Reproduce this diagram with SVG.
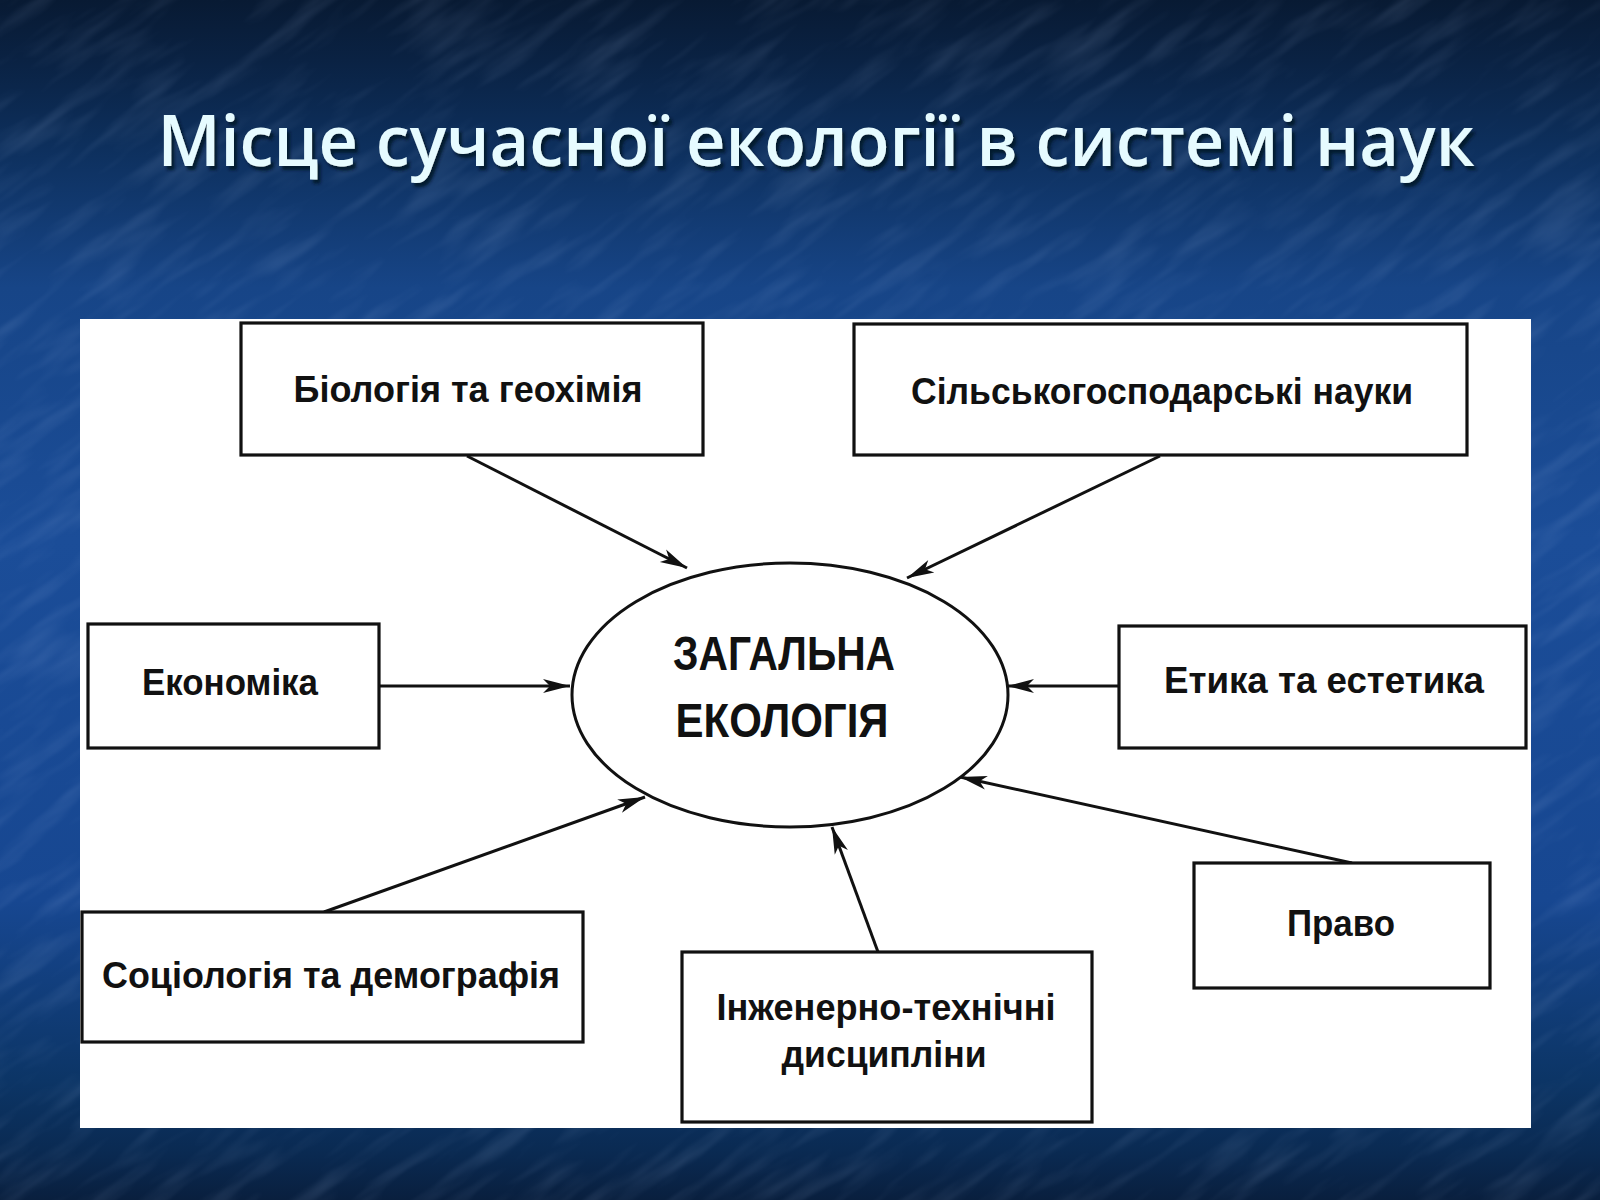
<svg xmlns="http://www.w3.org/2000/svg" width="1600" height="1200" viewBox="0 0 1600 1200">
<defs>
<linearGradient id="bg" x1="0" y1="0" x2="0" y2="1">
<stop offset="0" stop-color="#081a33"/>
<stop offset="0.05" stop-color="#0a2243"/>
<stop offset="0.12" stop-color="#0d2f5c"/>
<stop offset="0.24" stop-color="#174587"/>
<stop offset="0.45" stop-color="#1b4d98"/>
<stop offset="0.75" stop-color="#174791"/>
<stop offset="0.9" stop-color="#0c3566"/>
<stop offset="0.96" stop-color="#0a2a52"/>
<stop offset="1" stop-color="#091f3e"/>
</linearGradient>
<filter id="tex" x="0" y="0" width="100%" height="100%">
<feTurbulence type="fractalNoise" baseFrequency="0.01 0.06" numOctaves="3" seed="4" result="n"/>
<feColorMatrix in="n" type="matrix" values="0 0 0 0 0.55  0 0 0 0 0.7  0 0 0 0 1  0 0 0 1.2 -0.55"/>
<feGaussianBlur stdDeviation="1.2"/>
</filter>
<filter id="sh" x="-5%" y="-30%" width="110%" height="160%">
<feDropShadow dx="3" dy="4" stdDeviation="1.5" flood-color="#05122a" flood-opacity="0.9"/>
</filter>
<marker id="ah" markerUnits="userSpaceOnUse" markerWidth="30" markerHeight="18" refX="27" refY="8" orient="auto">
<path d="M0,1 L27,8 L0,15 L7,8 z" fill="#111"/>
</marker>
<style>
.box{fill:#fff;stroke:#111;stroke-width:3.2}
.lbl{font-family:"Liberation Sans",Arial,sans-serif;font-weight:bold;font-size:36px;fill:#111;text-anchor:middle}
.big{font-size:48px}
.con{stroke:#111;stroke-width:3;fill:none;marker-end:url(#ah)}
.title{font-family:"Open Sans","Liberation Sans",sans-serif;font-weight:600;font-size:70px;fill:#e6fbff;text-anchor:middle}
</style>
</defs>
<g id="background">
<rect x="0" y="0" width="1600" height="1200" fill="url(#bg)"/>
<g transform="rotate(-35 800 600)" opacity="0.22">
<rect x="-600" y="-600" width="2800" height="2400" filter="url(#tex)"/>
</g>
</g>
<g id="title">
<text class="title" x="816" y="166" textLength="1317" lengthAdjust="spacingAndGlyphs" filter="url(#sh)">Місце сучасної екології в системі наук</text>
</g>
<rect id="panel" x="80" y="319" width="1451" height="809" fill="#fff"/>
<g id="connectors">
<line class="con" x1="467" y1="456" x2="687" y2="568"/>
<line class="con" x1="1160" y1="456" x2="907" y2="578"/>
<line class="con" x1="379" y1="686" x2="570" y2="686"/>
<line class="con" x1="1119" y1="686" x2="1007" y2="686"/>
<line class="con" x1="324" y1="912" x2="645" y2="797"/>
<line class="con" x1="878" y1="952" x2="832" y2="827"/>
<line class="con" x1="1352" y1="863" x2="960" y2="777"/>
</g>
<g id="center">
<ellipse cx="790" cy="695" rx="218" ry="132" fill="#fff" stroke="#111" stroke-width="3"/>
<text class="lbl big" x="784" y="670" textLength="222" lengthAdjust="spacingAndGlyphs">ЗАГАЛЬНА</text>
<text class="lbl big" x="782" y="737" textLength="213" lengthAdjust="spacingAndGlyphs">ЕКОЛОГІЯ</text>
</g>
<g id="biology">
<rect class="box" x="241" y="323" width="462" height="132"/>
<text class="lbl" x="468" y="402" textLength="349" lengthAdjust="spacingAndGlyphs">Біологія та геохімія</text>
</g>
<g id="agriculture">
<rect class="box" x="854" y="324" width="613" height="131"/>
<text class="lbl" x="1162" y="404" textLength="502" lengthAdjust="spacingAndGlyphs">Сільськогосподарські науки</text>
</g>
<g id="economics">
<rect class="box" x="88" y="624" width="291" height="124"/>
<text class="lbl" x="230" y="695" textLength="176" lengthAdjust="spacingAndGlyphs">Економіка</text>
</g>
<g id="ethics">
<rect class="box" x="1119" y="626" width="407" height="122"/>
<text class="lbl" x="1324" y="693" textLength="320" lengthAdjust="spacingAndGlyphs">Етика та естетика</text>
</g>
<g id="sociology">
<rect class="box" x="82" y="912" width="501" height="130"/>
<text class="lbl" x="331" y="988" textLength="458" lengthAdjust="spacingAndGlyphs">Соціологія та демографія</text>
</g>
<g id="engineering">
<rect class="box" x="682" y="952" width="410" height="170"/>
<text class="lbl" x="886" y="1020" textLength="339" lengthAdjust="spacingAndGlyphs">Інженерно-технічні</text>
<text class="lbl" x="884" y="1067" textLength="205" lengthAdjust="spacingAndGlyphs">дисципліни</text>
</g>
<g id="law">
<rect class="box" x="1194" y="863" width="296" height="125"/>
<text class="lbl" x="1341" y="936" textLength="108" lengthAdjust="spacingAndGlyphs">Право</text>
</g>
</svg>
